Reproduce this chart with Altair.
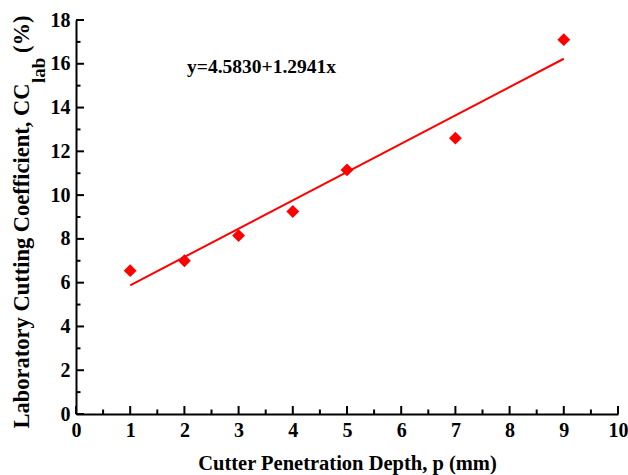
import altair as alt
import pandas as pd

# ---- data ----
depth = [1, 2, 3, 4, 5, 7, 9]
cc_lab = [6.55, 7.0, 8.15, 9.25, 11.15, 12.6, 17.1]
fit_x = [1, 9]
fit_y = [5.88, 16.23]
x_ticks = [0, 1, 2, 3, 4, 5, 6, 7, 8, 9, 10]
x_minor = [0.5, 1.5, 2.5, 3.5, 4.5, 5.5, 6.5, 7.5, 8.5, 9.5]
y_ticks = [0, 2, 4, 6, 8, 10, 12, 14, 16, 18]
y_minor = [1, 3, 5, 7, 9, 11, 13, 15, 17]
equation = ["y=4.5830+1.2941x"]
eq_x = [2.05]
eq_y = [15.6]
x_title = "Cutter Penetration Depth, p (mm)"
y_title_main = ["Laboratory Cutting Coefficient, CC"]
y_title_sub = ["lab"]
y_title_end = ["(%)"]

W, H = 542, 394
FONT = "Liberation Serif"
RED = "#ff0000"

xs = alt.Scale(domain=[0, 10], nice=False, zero=False)
ys = alt.Scale(domain=[0, 18], nice=False, zero=False)

x_axis = alt.Axis(values=x_ticks, title=x_title, grid=False, ticks=False,
                  domainColor="black", domainWidth=2,
                  labelFont=FONT, labelFontSize=20, labelFontWeight="bold",
                  labelColor="black", labelPadding=6, labelFlush=False,
                  labelOverlap=False, format="d",
                  titleFont=FONT, titleFontSize=20.5, titleFontWeight="bold",
                  titleColor="black", titleBaseline="alphabetic", titleY=55)
y_axis = alt.Axis(values=y_ticks, title="", grid=False, ticks=False,
                  domainColor="black", domainWidth=2,
                  labelFont=FONT, labelFontSize=20, labelFontWeight="bold",
                  labelColor="black", labelPadding=6, labelFlush=False,
                  labelOverlap=False, format="d")

pts_df = pd.DataFrame({"x": depth, "y": cc_lab})
fit_df = pd.DataFrame({"x": fit_x, "y": fit_y})

points = alt.Chart(pts_df).mark_point(shape="diamond", filled=True, size=165,
                                      color=RED, opacity=1).encode(
    x=alt.X("x:Q", scale=xs, axis=x_axis),
    y=alt.Y("y:Q", scale=ys, axis=y_axis),
)

line = alt.Chart(fit_df).mark_line(color=RED, strokeWidth=2).encode(
    x=alt.X("x:Q", scale=xs, axis=x_axis),
    y=alt.Y("y:Q", scale=ys, axis=y_axis),
)

eq = alt.Chart(pd.DataFrame({"x": eq_x, "y": eq_y, "t": equation})).mark_text(
    align="left", baseline="alphabetic", font=FONT, fontSize=19.5,
    fontWeight="bold", color="black").encode(
    x=alt.X("x:Q", scale=xs, axis=x_axis),
    y=alt.Y("y:Q", scale=ys, axis=y_axis),
    text="t:N",
)

# inward ticks
TICK_W = 2
xmaj = alt.Chart(pd.DataFrame({"x": x_ticks})).mark_rule(color="black", strokeWidth=TICK_W).encode(
    x=alt.X("x:Q", scale=xs, axis=x_axis), y=alt.value(H), y2=alt.value(H - 8))
xmin = alt.Chart(pd.DataFrame({"x": x_minor})).mark_rule(color="black", strokeWidth=TICK_W).encode(
    x=alt.X("x:Q", scale=xs, axis=x_axis), y=alt.value(H), y2=alt.value(H - 4.5))
ymaj = alt.Chart(pd.DataFrame({"y": y_ticks})).mark_rule(color="black", strokeWidth=TICK_W).encode(
    y=alt.Y("y:Q", scale=ys, axis=y_axis), x=alt.value(0), x2=alt.value(8))
ymin = alt.Chart(pd.DataFrame({"y": y_minor})).mark_rule(color="black", strokeWidth=TICK_W).encode(
    y=alt.Y("y:Q", scale=ys, axis=y_axis), x=alt.value(0), x2=alt.value(4.5))

# y-axis title with subscript
t_main = alt.Chart(pd.DataFrame({"t": y_title_main})).mark_text(
    angle=270, align="center", baseline="alphabetic", font=FONT, fontSize=22.5,
    fontWeight="bold", color="black").encode(
    text="t:N", x=alt.value(-47.5), y=alt.value(236))
t_sub = alt.Chart(pd.DataFrame({"t": y_title_sub})).mark_text(
    angle=270, align="left", baseline="alphabetic", font=FONT, fontSize=19,
    fontWeight="bold", color="black").encode(
    text="t:N", x=alt.value(-31), y=alt.value(63))
t_end = alt.Chart(pd.DataFrame({"t": y_title_end})).mark_text(
    angle=270, align="left", baseline="alphabetic", font=FONT, fontSize=22.5,
    fontWeight="bold", color="black").encode(
    text="t:N", x=alt.value(-47.5), y=alt.value(33))

chart = alt.layer(line, points, eq, xmaj, xmin, ymaj, ymin, t_main, t_sub, t_end).properties(
    width=W, height=H,
    autosize=alt.AutoSizeParams(type="none"),
    padding={"left": 76, "top": 20, "right": 10, "bottom": 61},
    background="white",
).configure_view(strokeWidth=0)

chart.save("out.html", embed_options={"renderer": "svg", "actions": False})
